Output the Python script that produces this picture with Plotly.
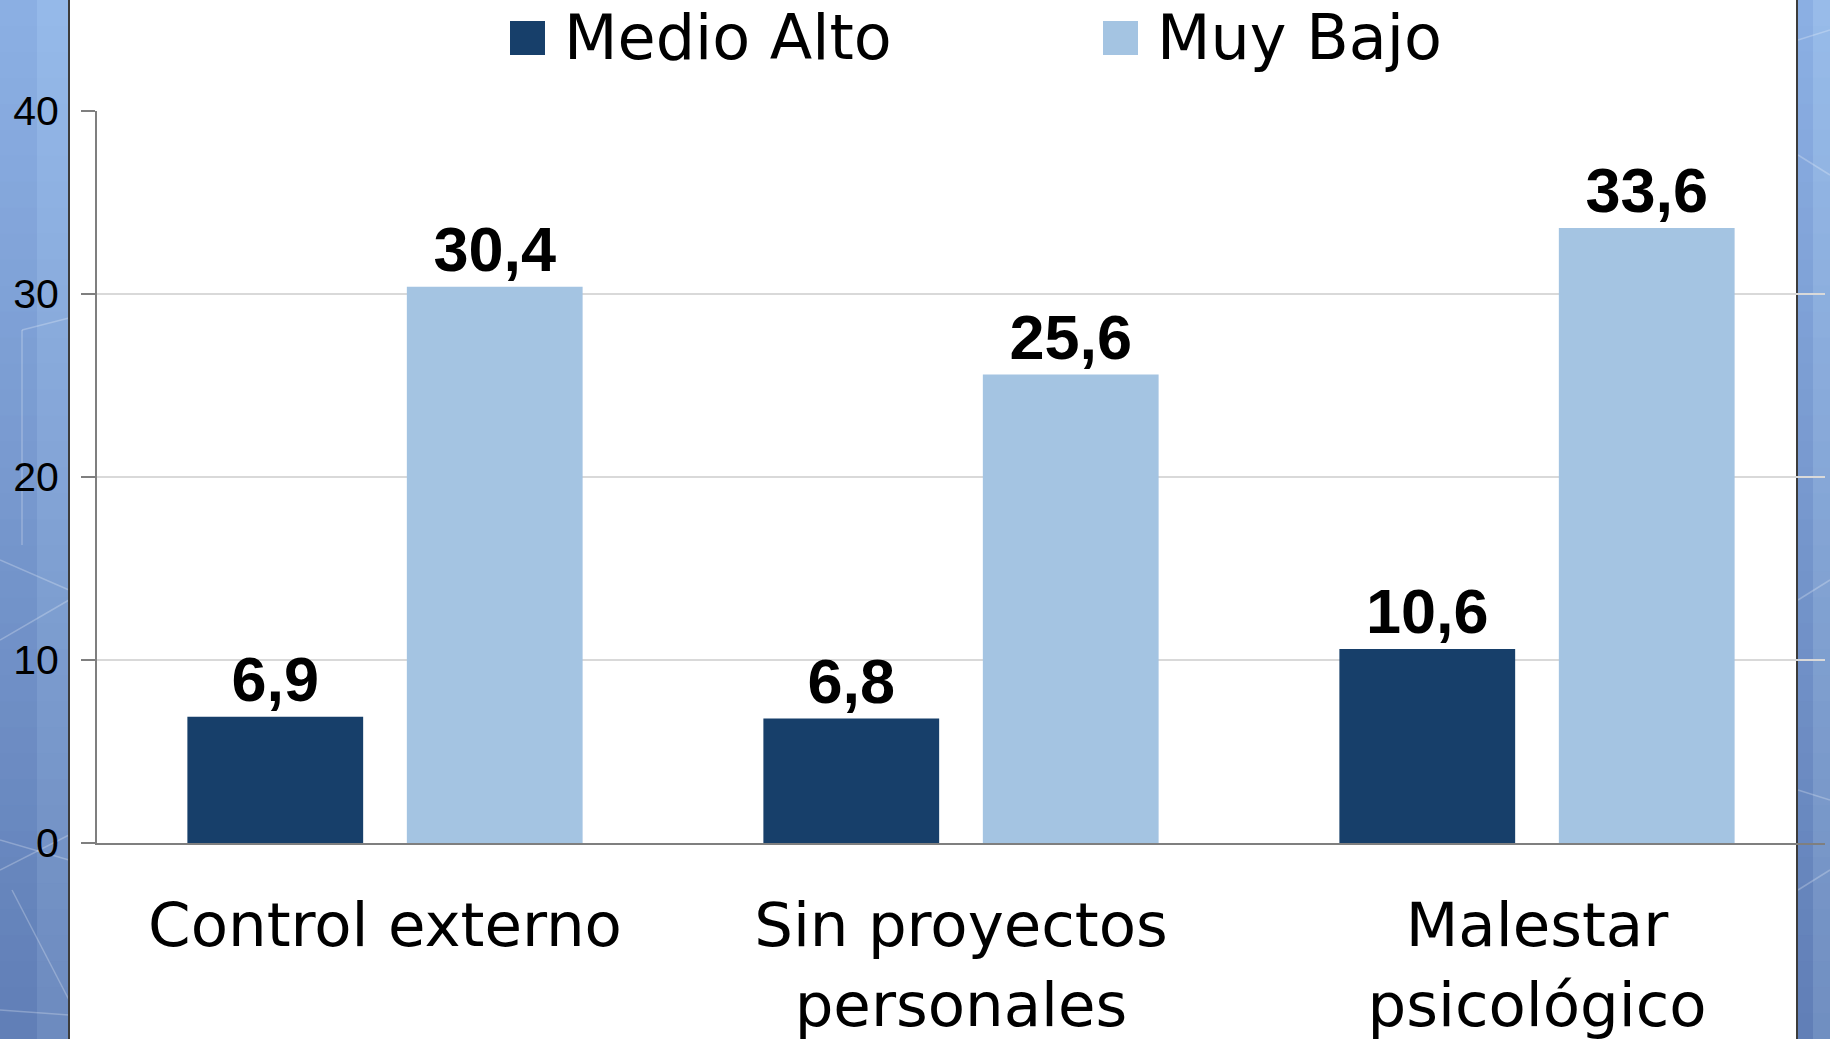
import plotly.graph_objects as go

# ---------------- data ----------------
categories = ["Control externo", "Sin proyectos<br>personales", "Malestar<br>psicológico"]
series_names = ["Medio Alto", "Muy Bajo"]
medio_alto = [6.9, 6.8, 10.6]
muy_bajo = [30.4, 25.6, 33.6]
y_ticks = [0, 10, 20, 30, 40]

# ---------------- styles ----------------
DARK = "#173F6A"
LIGHT = "#A4C4E2"
FONT = "Liberation Sans"
FONT_WIDE = "DejaVu Sans"

W, H = 1830, 1039
ML, MR, MT, MB = 97, 5, 111, 196
PW = W - ML - MR
PH = H - MT - MB


def px(x):
    return (x - ML) / PW


def py(y):
    return (H - MB - y) / PH


def fmt(v):
    return f"{v:.1f}".replace(".", ",")


fig = go.Figure()
for name, vals, col in [(series_names[0], medio_alto, DARK), (series_names[1], muy_bajo, LIGHT)]:
    fig.add_trace(go.Bar(
        x=categories, y=vals, name=name,
        marker=dict(color=col, line=dict(width=0)),
        text=[fmt(v) for v in vals], textposition="outside",
        constraintext="none", cliponaxis=False,
        textfont=dict(family=FONT, size=63, color="black", weight="bold"),
        hoverinfo="skip",
    ))

# ---------------- background (blue side strips) ----------------
shapes = []
shapes.append(dict(type="rect", xref="paper", yref="paper", x0=px(70), x1=px(1797), y0=py(H), y1=py(0),
                   fillcolor="white", line=dict(width=0), layer="below"))


def lerp(c1, c2, t):
    return "rgb(%d,%d,%d)" % tuple(round(a + (b - a) * t) for a, b in zip(c1, c2))


N = 40
bands = [
    (0, 37, (140, 176, 228), (96, 126, 182)),
    (37, 69, (150, 186, 234), (108, 138, 190)),
    (1798, 1813, (140, 176, 228), (96, 126, 182)),
    (1813, W, (152, 188, 234), (112, 142, 192)),
]
for x0, x1, ctop, cbot in bands:
    for i in range(N):
        y0 = H * i / N
        y1 = H * (i + 1) / N + 1
        shapes.append(dict(type="rect", xref="paper", yref="paper", x0=px(x0), x1=px(x1),
                           y0=py(y1), y1=py(y0), fillcolor=lerp(ctop, cbot, (i + 0.5) / N),
                           line=dict(width=0), layer="below"))

# faint hexagon-like pattern lines
pattern = [
    ((0, 640), (69, 600)), ((0, 560), (69, 590)), ((22, 330), (69, 318)), ((22, 330), (22, 545)),
    ((0, 870), (69, 835)), ((0, 840), (69, 860)), ((12, 890), (69, 1000)), ((0, 1010), (69, 1015)),
    ((1798, 40), (W, 30)), ((1798, 155), (W, 175)), ((1798, 600), (W, 580)), ((1798, 890), (W, 870)),
    ((1798, 790), (W, 800)),
]
for (ax, ay), (bx, by) in pattern:
    shapes.append(dict(type="line", xref="paper", yref="paper", x0=px(ax), y0=py(ay), x1=px(bx), y1=py(by),
                       line=dict(color="rgba(255,255,255,0.25)", width=1.5), layer="below"))

# dark borders
for bx in (69, 1797):
    shapes.append(dict(type="line", xref="paper", yref="paper", x0=px(bx), x1=px(bx), y0=py(H), y1=py(0),
                       line=dict(color="#3c3c3c", width=2), layer="below"))

# legend squares + labels
annotations = []
legend_items = [(series_names[0], DARK, 510, 562), (series_names[1], LIGHT, 1103, 1155)]
for name, col, sx, tx in legend_items:
    shapes.append(dict(type="rect", xref="paper", yref="paper", x0=px(sx), x1=px(sx + 35),
                       y0=py(55), y1=py(21), fillcolor=col, line=dict(width=0), layer="above"))
    annotations.append(dict(xref="paper", yref="paper", x=px(tx), y=py(37), xanchor="left", yanchor="middle",
                            text=name, showarrow=False, font=dict(family=FONT_WIDE, size=62, color="black")))

fig.update_layout(
    width=W, height=H,
    margin=dict(l=ML, r=MR, t=MT, b=MB, pad=0),
    paper_bgcolor="white", plot_bgcolor="rgba(0,0,0,0)",
    barmode="group", bargap=0.238, bargroupgap=0.199,
    showlegend=False,
    shapes=shapes, annotations=annotations,
    font=dict(family=FONT, color="black"),
    xaxis=dict(range=[-0.5, 2.5], showline=True, linecolor="#7f7f7f", linewidth=2,
               ticks="", showgrid=False, zeroline=False, automargin=False,
               tickfont=dict(family=FONT_WIDE, size=61, color="black"), ticklabelstandoff=28,
               fixedrange=True),
    yaxis=dict(range=[0, 40], tickvals=y_ticks, showgrid=True, gridcolor="#d9d9d9", gridwidth=1.5,
               showline=True, linecolor="#7f7f7f", linewidth=2, zeroline=False,
               ticks="outside", ticklen=14, tickcolor="#7f7f7f", tickwidth=2,
               tickfont=dict(family=FONT, size=41, color="black"), ticklabelstandoff=14,
               automargin=False, fixedrange=True),
)

fig.write_html("out.html", config={"displayModeBar": False},
               post_script="document.body.style.margin='0';document.body.style.overflow='hidden';")
